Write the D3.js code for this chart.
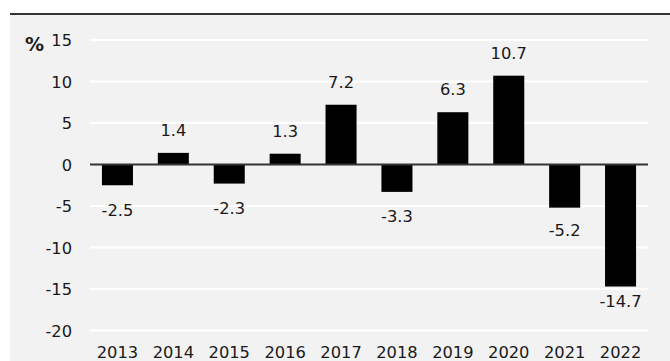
<!DOCTYPE html>
<html>
<head>
<meta charset="utf-8">
<script src="https://cdn.jsdelivr.net/npm/d3@7"></script>
<style>
html,body{margin:0;padding:0;background:#fff;}
svg{display:block;}
text{font-family:"DejaVu Sans",Verdana,sans-serif;fill:#1a1a1a;}
</style>
</head>
<body>
<svg id="chart" width="670" height="361"></svg>
<script>
const years = ["2013","2014","2015","2016","2017","2018","2019","2020","2021","2022"];
const values = [-2.5, 1.4, -2.3, 1.3, 7.2, -3.3, 6.3, 10.7, -5.2, -14.7];
const yTicks = [15, 10, 5, 0, -5, -10, -15, -20];
const unitLabel = "%";

const svg = d3.select("#chart");
const W = 670, H = 361;

// panel background and top rule
svg.append("rect").attr("x", 10).attr("y", 15).attr("width", W - 10).attr("height", H - 15).attr("fill", "#f2f2f2");
svg.append("line").attr("x1", 10).attr("x2", W).attr("y1", 14).attr("y2", 14).attr("stroke", "#333").attr("stroke-width", 2);

const x = d3.scaleBand().domain(years).range([89.5, 648.5]).paddingInner(0.445).paddingOuter(0.2225);
const y = d3.scaleLinear().domain([-20, 15]).range([330.5, 40]);

// gridlines
svg.append("g").selectAll("line").data(yTicks.filter(t => t !== 0)).join("line")
  .attr("x1", 90).attr("x2", 648)
  .attr("y1", d => y(d)).attr("y2", d => y(d))
  .attr("stroke", "#ffffff").attr("stroke-width", 2);

// y axis labels
const yAxis = d3.axisLeft(y).tickValues(yTicks).tickSize(0).tickPadding(0).tickFormat(d => String(d));
const gy = svg.append("g").attr("transform", "translate(72,0)").call(yAxis);
gy.select(".domain").remove();
gy.selectAll("text").attr("font-size", 16.3).attr("font-family", "DejaVu Sans").attr("fill", "#1a1a1a").attr("dy", "0.36em");

// unit label
svg.append("text").attr("x", 25).attr("y", 51).attr("font-size", 19).attr("font-weight", "bold")
  .attr("font-family", "DejaVu Sans Condensed").text(unitLabel);

// bars
svg.append("g").selectAll("rect").data(values).join("rect")
  .attr("x", (d, i) => x(years[i]))
  .attr("width", x.bandwidth())
  .attr("y", d => y(Math.max(0, d)))
  .attr("height", d => Math.abs(y(d) - y(0)))
  .attr("fill", "#000");

// zero line
svg.append("line").attr("x1", 90).attr("x2", 648).attr("y1", y(0)).attr("y2", y(0))
  .attr("stroke", "#333").attr("stroke-width", 2);

// data labels
svg.append("g").selectAll("text").data(values).join("text")
  .attr("x", (d, i) => x(years[i]) + x.bandwidth() / 2)
  .attr("y", d => d >= 0 ? y(d) - 17 : y(d * 0.9) + 32.5)
  .attr("text-anchor", "middle")
  .attr("font-size", 16.3)
  .text(d => d.toFixed(1));

// x axis labels
const xAxis = d3.axisBottom(x).tickSize(0).tickPadding(0);
const gx = svg.append("g").attr("transform", "translate(0,345)").call(xAxis);
gx.select(".domain").remove();
gx.selectAll("text").attr("font-size", 16.3).attr("font-family", "DejaVu Sans").attr("fill", "#1a1a1a").attr("dy", null).attr("y", 12.5);
</script>
</body>
</html>
